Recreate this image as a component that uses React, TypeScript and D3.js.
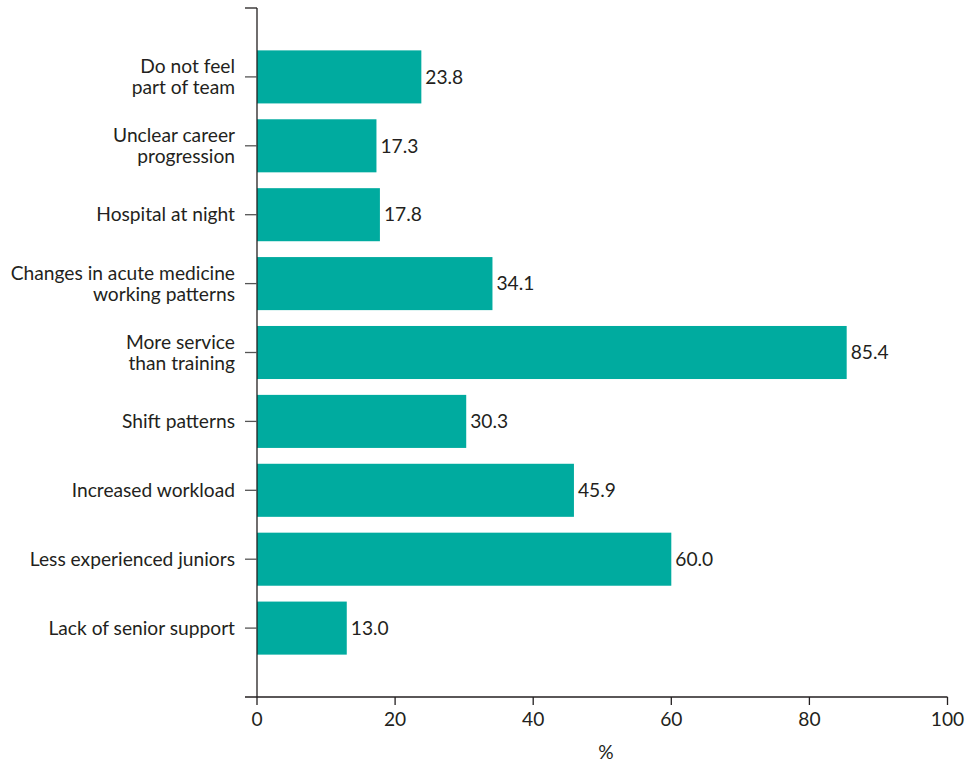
import React from "react";
import * as d3 from "d3";

const categories: string[][] = [
  ["Do not feel", "part of team"],
  ["Unclear career", "progression"],
  ["Hospital at night"],
  ["Changes in acute medicine", "working patterns"],
  ["More service", "than training"],
  ["Shift patterns"],
  ["Increased workload"],
  ["Less experienced juniors"],
  ["Lack of senior support"],
];
const values: number[] = [23.8, 17.3, 17.8, 34.1, 85.4, 30.3, 45.9, 60.0, 13.0];
const xTicks: number[] = [0, 20, 40, 60, 80, 100];
const xLabel = "%";

const W = 967;
const H = 763;
const FONT = "Lato, 'Open Sans', sans-serif";

export default function App() {
  const left = 257;
  const right = 947.5;
  const top = 8;
  const bottom = 697;
  const x = d3.scaleLinear().domain([0, 100]).range([left, right]);
  const keys = categories.map((_, i) => String(i));
  const y = d3
    .scaleBand<string>()
    .domain(keys)
    .range([top, bottom])
    .paddingInner(0.23)
    .paddingOuter(0.615);
  const bw = y.bandwidth();
  const lh = 21;
  const fs = 19.2;

  return (
    <svg width={W} height={H} style={{ position: "absolute", left: 0, top: 0 }}>
      <rect x={0} y={0} width={W} height={H} fill="#fff" />
      {values.map((v, i) => {
        const yy = y(String(i))!;
        return (
          <g key={i}>
            <rect x={x(0)} y={yy} width={x(v) - x(0)} height={bw} fill="#00AB9F" />
            <text
              x={x(v) + 4}
              y={yy + bw / 2}
              dy="0.35em"
              fontFamily={FONT}
              fontSize={fs}
              fill="#231f20"
            >
              {v.toFixed(1)}
            </text>
          </g>
        );
      })}
      {/* y axis */}
      <line x1={left} x2={left} y1={top} y2={bottom} stroke="#231f20" strokeWidth={1.3} />
      <line x1={left - 12} x2={left} y1={top} y2={top} stroke="#231f20" strokeWidth={1.3} />
      {categories.map((lines, i) => {
        const cy = y(String(i))! + bw / 2;
        const n = lines.length;
        return (
          <g key={i}>
            <line x1={left - 12} x2={left} y1={cy} y2={cy} stroke="#555" strokeWidth={1.3} />
            <text
              textAnchor="end"
              fontFamily={FONT}
              fontSize={fs}
              fill="#231f20"
            >
              {lines.map((l, j) => (
                <tspan key={j} x={left - 22} y={cy + (j - (n - 1) / 2) * lh} dy="0.35em">
                  {l}
                </tspan>
              ))}
            </text>
          </g>
        );
      })}
      {/* x axis */}
      <line x1={left - 12} x2={right} y1={bottom} y2={bottom} stroke="#231f20" strokeWidth={1.3} />
      {xTicks.map((t) => (
        <g key={t}>
          <line x1={x(t)} x2={x(t)} y1={bottom} y2={bottom + 8} stroke="#231f20" strokeWidth={1.3} />
          <text
            x={x(t)}
            y={bottom + 22}
            dy="0.35em"
            textAnchor="middle"
            fontFamily={FONT}
            fontSize={fs}
            fill="#231f20"
          >
            {t}
          </text>
        </g>
      ))}
      <text
        x={606}
        y={752}
        dy="0.35em"
        textAnchor="middle"
        fontFamily={FONT}
        fontSize={fs}
        fill="#231f20"
      >
        {xLabel}
      </text>
    </svg>
  );
}
